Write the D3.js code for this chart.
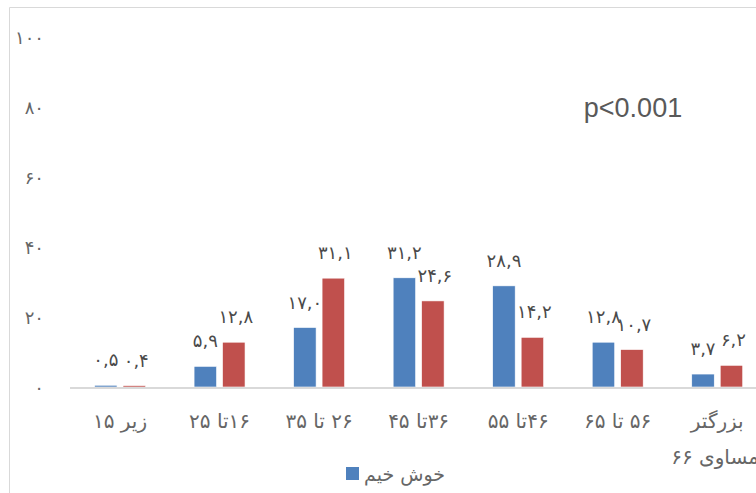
<!DOCTYPE html>
<html>
<head>
<meta charset="utf-8">
<script src="https://cdn.jsdelivr.net/npm/d3@7"></script>
<style>
  html, body { margin: 0; padding: 0; background: #fff; }
  svg { display: block; }
</style>
</head>
<body>
<svg id="chart" width="756" height="493"></svg>
<script>
// ---- data ----
const categories = ["زیر ۱۵", "۱۶تا ۲۵", "۲۶ تا ۳۵", "۳۶تا ۴۵", "۴۶تا ۵۵", "۵۶ تا ۶۵", "بزرگتر یا مساوی ۶۶"];
const categoryLines = [["زیر ۱۵"], ["۱۶تا ۲۵"], ["۲۶ تا ۳۵"], ["۳۶تا ۴۵"], ["۴۶تا ۵۵"], ["۵۶ تا ۶۵"], ["بزرگتر", "یا مساوی ۶۶"]];
const benign = [0.5, 5.9, 17.0, 31.2, 28.9, 12.8, 3.7];      // خوش خیم
const malignant = [0.4, 12.8, 31.1, 24.6, 14.2, 10.7, 6.2];  // second series
const benignLabels = ["۰,۵", "۵,۹", "۱۷,۰", "۳۱,۲", "۲۸,۹", "۱۲,۸", "۳,۷"];
const malignantLabels = ["۰,۴", "۱۲,۸", "۳۱,۱", "۲۴,۶", "۱۴,۲", "۱۰,۷", "۶,۲"];
const yTicks = [0, 20, 40, 60, 80, 100];
const yTickLabels = ["۰", "۲۰", "۴۰", "۶۰", "۸۰", "۱۰۰"];
const legendLabel = "خوش خیم";
const noteText = "p<0.001";

const seriesKeys = ["benign", "malignant"];
const colors = { benign: "#4f81bd", malignant: "#c0504d" };

const svg = d3.select("#chart");
const arabicFont = "'DejaVu Sans', sans-serif";

// frame (chart area border, cropped on right/bottom)
svg.append("path")
  .attr("d", "M9.5,493 V7.5 H756")
  .attr("fill", "none").attr("stroke", "#d9d9d9").attr("stroke-width", 1);

const x = d3.scaleBand().domain(d3.range(categories.length)).range([70.25, 767]).paddingInner(0.488).paddingOuter(0.244);
const xs = d3.scaleBand().domain(seriesKeys).range([0, x.bandwidth()]).paddingInner(0.21);
const y = d3.scaleLinear().domain([0, 100]).range([387, 37]);

// y tick labels
const yAxis = d3.axisLeft(y).tickValues(yTicks).tickSize(0).tickPadding(0)
  .tickFormat((d, i) => yTickLabels[i]);
const ya = svg.append("g").attr("transform", "translate(44,0)").call(yAxis);
ya.select(".domain").remove();
ya.selectAll("text").attr("fill", "#666666").attr("font-family", arabicFont).attr("font-size", 18)
  .attr("dy", "0.35em");

// bars
const groups = svg.append("g").selectAll("g").data(categories).join("g")
  .attr("transform", (d, i) => `translate(${x(i)},0)`);

const rows = categories.map((c, i) => [
  { key: "benign", v: benign[i], label: benignLabels[i] },
  { key: "malignant", v: malignant[i], label: malignantLabels[i] }
]);

groups.selectAll("rect").data((d, i) => rows[i]).join("rect")
  .attr("x", d => xs(d.key))
  .attr("width", xs.bandwidth())
  .attr("y", d => y(d.v))
  .attr("height", d => y(0) - y(d.v))
  .attr("fill", d => colors[d.key])
  .attr("stroke", "#fff").attr("stroke-width", 0.6);

// baseline
svg.append("line")
  .attr("x1", 70).attr("x2", 756).attr("y1", y(0) + 1).attr("y2", y(0) + 1)
  .attr("stroke", "#d9d9d9").attr("stroke-width", 2);

// data labels
groups.selectAll("text.dl").data((d, i) => rows[i]).join("text")
  .attr("class", "dl")
  .attr("x", d => xs(d.key) + xs.bandwidth() / 2 + (d.key === "malignant" ? 2 : 0))
  .attr("y", d => y(d.v) - 19)
  .attr("text-anchor", "middle")
  .attr("font-family", arabicFont)
  .attr("font-size", 18)
  .attr("letter-spacing", d => d.key === "malignant" ? 6 : 0)
  .attr("fill", "#4a4a4a")
  .text(d => d.label);

// category labels
groups.each(function (d, i) {
  const g = d3.select(this);
  const lines = categoryLines[i];
  lines.forEach((line, j) => {
    const t = g.append("text")
      .attr("x", x.bandwidth() / 2)
      .attr("y", 428 + j * 36)
      .attr("text-anchor", "middle")
      .attr("direction", "rtl")
      .attr("font-family", arabicFont)
      .attr("font-size", 20)
      .attr("fill", "#666666")
      .text(line);
    if (j > 0) {
      // continuation line: left edge sits left of the first line (as in reference)
      const w = t.node().getComputedTextLength();
      t.attr("x", x.bandwidth() / 2 - 46 + w / 2);
    }
  });
});

// note
svg.append("text")
  .attr("x", 633).attr("y", 117)
  .attr("text-anchor", "middle")
  .attr("font-family", "'Liberation Sans', Arial, sans-serif")
  .attr("font-size", 27)
  .attr("fill", "#595959")
  .text(noteText);

// legend (only the visible entry)
svg.append("rect").attr("x", 346).attr("y", 467).attr("width", 13).attr("height", 13).attr("fill", colors.benign);
svg.append("text")
  .attr("x", 445).attr("y", 481)
  .attr("text-anchor", "end")
  .attr("font-family", arabicFont)
  .attr("font-size", 19)
  .attr("fill", "#666666")
  .text(legendLabel);
</script>
</body>
</html>
